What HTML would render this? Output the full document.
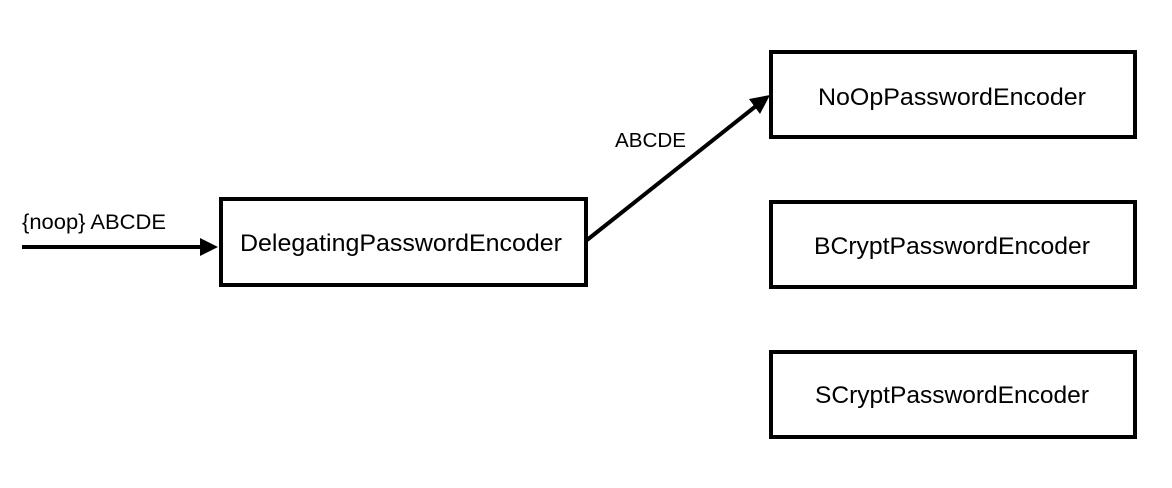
<!DOCTYPE html>
<html><head><meta charset="utf-8"><style>
html,body{margin:0;padding:0;background:#fff;}
svg{display:block;}
text{font-family:"Liberation Sans",sans-serif;fill:#000;}
</style></head><body>
<svg width="1172" height="488" viewBox="0 0 1172 488">
<g fill="none" stroke="#000" stroke-width="4">
<rect x="221" y="199" width="365" height="86"/>
<rect x="771" y="52" width="364" height="85"/>
<rect x="771" y="202" width="364" height="85"/>
<rect x="771" y="352" width="364" height="85"/>
<line x1="22" y1="247" x2="202" y2="247"/>
<line x1="587" y1="240" x2="756" y2="106"/>
</g>
<polygon points="218,247 200,238 200,256" fill="#000"/>
<polygon points="770,95 749,99 760,114" fill="#000"/>
<text x="22" y="229" font-size="21.5" textLength="144" lengthAdjust="spacingAndGlyphs">{noop} ABCDE</text>
<text x="615" y="147" font-size="20.5" textLength="71" lengthAdjust="spacingAndGlyphs">ABCDE</text>
<g font-size="24">
<text x="401" y="251" text-anchor="middle" textLength="322" lengthAdjust="spacingAndGlyphs">DelegatingPasswordEncoder</text>
<text x="952" y="105" text-anchor="middle" textLength="268" lengthAdjust="spacingAndGlyphs">NoOpPasswordEncoder</text>
<text x="952" y="254" text-anchor="middle" textLength="276" lengthAdjust="spacingAndGlyphs">BCryptPasswordEncoder</text>
<text x="952" y="403" text-anchor="middle" textLength="274" lengthAdjust="spacingAndGlyphs">SCryptPasswordEncoder</text>
</g>
</svg>
</body></html>
